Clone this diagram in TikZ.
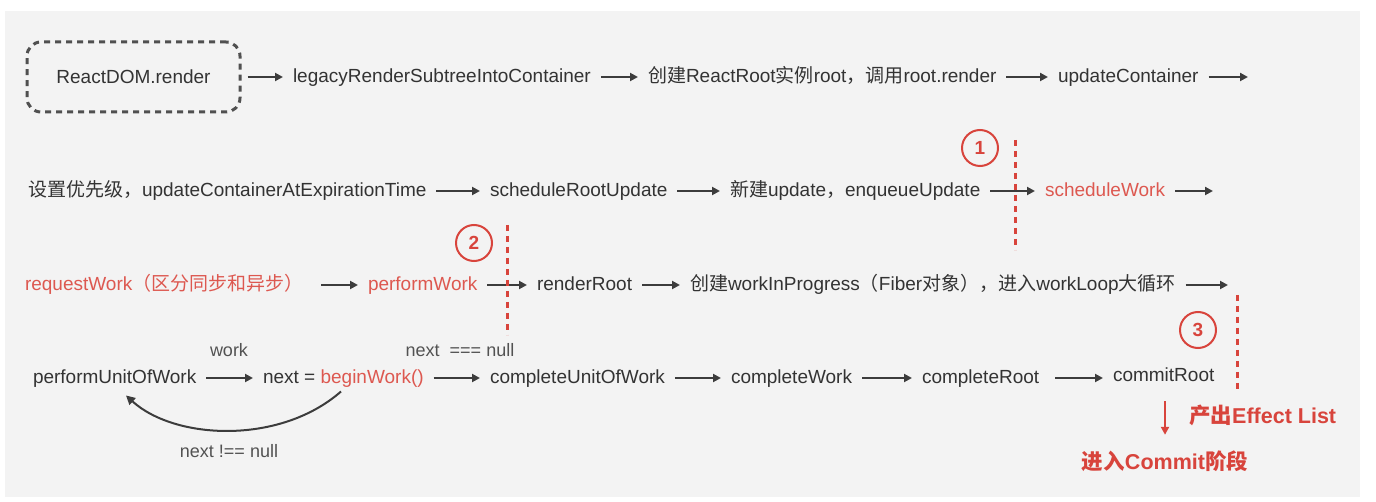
\documentclass[tikz,border=0pt]{standalone}
\usepackage{fontspec}
\setmainfont{Liberation Sans}
\newfontfamily\cjk{Noto Sans CJK SC}
\usetikzlibrary{arrows.meta,calc}
\definecolor{bgray}{HTML}{F3F3F3}
\definecolor{txt}{HTML}{333333}
\definecolor{arrc}{HTML}{3C3C3C}
\definecolor{rtxt}{HTML}{DD5850}
\definecolor{rline}{HTML}{D8443C}
\tikzset{
  lbl/.style={inner sep=0pt, outer sep=0pt, anchor=west, text height=15pt, text depth=4pt, text=txt, font=\fontsize{19}{22}\selectfont},
  rlbl/.style={lbl, text=rtxt},
  small/.style={inner sep=0pt, text height=14pt, text depth=4pt, text=txt!85, font=\fontsize{18}{22}\selectfont},
  arr/.style={draw=arrc, line width=2pt, -{Triangle[length=8pt,width=8pt]}, shorten <=10pt, shorten >=10pt},
  reddash/.style={draw=rline, line width=3pt, dash pattern=on 6pt off 5pt},
  num/.style={circle, draw=rline, line width=2pt, minimum size=36pt, inner sep=0pt, text=rline, font=\fontsize{19}{22}\selectfont\bfseries},
  boldred/.style={inner sep=0pt, text height=16pt, text depth=4pt, text=rline, font=\fontsize{21.5}{24}\selectfont\bfseries}
}
\begin{document}
\begin{tikzpicture}[x=1pt,y=-1pt]
\useasboundingbox (0,0) rectangle (1376,502);
\fill[bgray] (5,11) rectangle (1360,497);

% Row 1
\node[draw=arrc!90, line width=3pt, dash pattern=on 6pt off 5pt, rounded corners=14pt,
      minimum width=213pt, minimum height=70pt, inner sep=0pt, text=txt,
      font=\fontsize{19}{22}\selectfont] (rd) at (133.5,77) {ReactDOM.render};
\node[lbl] (lr) at (293,77) {legacyRenderSubtreeIntoContainer};
\node[lbl] (cr) at (648,77) {{\cjk 创建}ReactRoot{\cjk 实例}root{\cjk ，调用}root.render};
\node[lbl] (uc) at (1058,77) {updateContainer};
\coordinate (e1) at (1248,77);
\draw[arr, shorten <=6pt] (rd) -- (lr);
\draw[arr] (lr) -- (cr);
\draw[arr] (cr) -- (uc);
\draw[arr, shorten >=0pt] (uc) -- (e1);

% Row 2
\node[lbl] (sp) at (28,191) {{\cjk 设置优先级，}updateContainerAtExpirationTime};
\node[lbl] (sru) at (490,191) {scheduleRootUpdate};
\node[lbl] (nu) at (730,191) {{\cjk 新建}update{\cjk ，}enqueueUpdate};
\node[rlbl] (sw) at (1045,191) {scheduleWork};
\coordinate (e2) at (1213,191);
\draw[arr] (sp) -- (sru);
\draw[arr] (sru) -- (nu);
\draw[arr] (nu) -- (sw);
\draw[arr, shorten >=0pt] (sw) -- (e2);
\node[num] (c1) at (980,148) {1};
\coordinate (d1a) at (1015,140);
\coordinate (d1b) at (1015,250);
\draw[reddash] (d1a) -- (d1b);

% Row 3
\node[rlbl] (rw) at (25,285) {requestWork{\cjk （区分同步和异步）}};
\node[rlbl] (pw) at (368,285) {performWork};
\node[lbl] (rr) at (537,285) {renderRoot};
\node[lbl] (cw) at (690,285) {{\cjk 创建}workInProgress{\cjk （}Fiber{\cjk 对象），进入}workLoop{\cjk 大循环}};
\coordinate (e3) at (1228,285);
\draw[arr, shorten <=18pt] (rw) -- (pw);
\draw[arr] (pw) -- (rr);
\draw[arr] (rr) -- (cw);
\draw[arr, shorten >=0pt] (cw) -- (e3);
\node[num] (c2) at (474,243) {2};
\coordinate (d2a) at (507,225);
\coordinate (d2b) at (507,335);
\draw[reddash] (d2a) -- (d2b);

% Row 4
\node[lbl] (pu) at (33,378) {performUnitOfWork};
\node[lbl] (bw) at (263,378) {next = \textcolor{rtxt}{beginWork()}};
\node[lbl] (cu) at (490,378) {completeUnitOfWork};
\node[lbl] (cwk) at (731,378) {completeWork};
\node[lbl] (cro) at (922,378) {completeRoot};
\node[lbl] (cmr) at (1113,376) {commitRoot};
\draw[arr] (pu) -- (bw);
\draw[arr] (bw) -- (cu);
\draw[arr] (cu) -- (cwk);
\draw[arr] (cwk) -- (cro);
\draw[arr, shorten <=16pt] (cro) -- (cro -| cmr.west);
\node[small] (lw) at (229,352) {work};
\node[small] (ln) at (460,352) {next \ === null};
\node[small] (lnn) at (229,452) {next !== null};
\draw[draw=arrc, line width=2pt, -{Triangle[length=9pt,width=9pt]}]
  ($(bw.south west)+(78,4)$) .. controls (280,445) and (175,440) .. ($(pu.south west)+(93,8)$);
\node[num] (c3) at (1198,330) {3};
\coordinate (d3a) at (1237,295);
\coordinate (d3b) at (1237,392);
\draw[reddash] (d3a) -- (d3b);

% Commit
\node[boldred, anchor=west] (eff) at (1189,417) {{\cjk 产出}Effect List};
\node[boldred] (cp) at (1165,463) {{\cjk 进入}Commit{\cjk 阶段}};
\draw[draw=rline, line width=2pt, -{Triangle[length=8pt,width=8pt]}, shorten <=16pt, shorten >=18pt] (cmr.south -| cp.north) -- (cp.north);
\end{tikzpicture}
\end{document}
